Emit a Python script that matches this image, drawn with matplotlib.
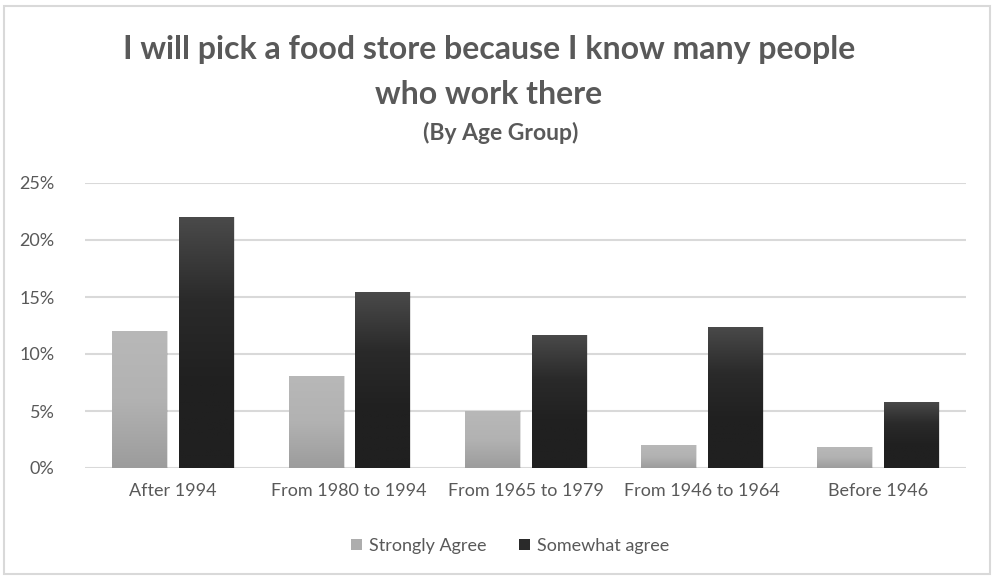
import numpy as np
import matplotlib.pyplot as plt
from matplotlib.patches import Rectangle
from matplotlib.ticker import PercentFormatter
from matplotlib.colors import LinearSegmentedColormap

plt.rcParams['font.family'] = ['Lato', 'DejaVu Sans']

groups = ["After 1994", "From 1980 to 1994", "From 1965 to 1979", "From 1946 to 1964", "Before 1946"]
strongly_agree = [12.0, 8.1, 5.0, 2.0, 1.8]
somewhat_agree = [22.0, 15.4, 11.7, 12.4, 5.8]
series_names = ["Strongly Agree", "Somewhat agree"]

text_col = "#595959"
light_cmap = LinearSegmentedColormap.from_list("light", ["#b8b8b8", "#b2b2b2", "#9c9c9c"])
dark_cmap = LinearSegmentedColormap.from_list("dark", ["#4a4a4a", "#2a2a2a", "#202020", "#202020"])

fig = plt.figure(figsize=(9.94, 5.76), dpi=100)
ax = fig.add_axes([85 / 994, 1 - 468 / 576, 881 / 994, 285 / 576])

x = np.arange(len(groups))
width = 0.31
offset = 0.19
grad = np.linspace(0, 1, 256).reshape(-1, 1)


def gradient_bars(xs, vals, cmap):
    for xc, v in zip(xs, vals):
        left = xc - width / 2
        # soft shadow behind the bar
        ax.add_patch(Rectangle((left + 0.008, 0), width, v, facecolor="#000000",
                               alpha=0.12, edgecolor="none", zorder=2))
        im = ax.imshow(grad, cmap=cmap, aspect="auto", zorder=3,
                       extent=[left, left + width, 0, v], origin="upper")
        clip = Rectangle((left, 0), width, v, transform=ax.transData)
        im.set_clip_path(clip)


gradient_bars(x - offset, strongly_agree, light_cmap)
gradient_bars(x + offset, somewhat_agree, dark_cmap)

ax.set_xlim(-0.5, len(groups) - 0.5)
ax.set_ylim(0, 25)
ax.set_yticks(np.arange(0, 26, 5))
ax.yaxis.set_major_formatter(PercentFormatter(decimals=0))
ax.set_xticks(x)
ax.set_xticklabels(groups)
ax.grid(axis="y", color="#d9d9d9", linewidth=1.5, zorder=0)
ax.set_axisbelow(True)
for s in ax.spines.values():
    s.set_visible(False)
ax.tick_params(length=0, labelsize=13, colors=text_col)
ax.tick_params(axis="x", pad=11)
ax.tick_params(axis="y", pad=22)

fig.text(0.492, 1 - 50 / 576, "I will pick a food store because I know many people",
         ha="center", va="center", fontsize=23, fontweight="bold", color=text_col)
fig.text(0.492, 1 - 95 / 576, "who work there",
         ha="center", va="center", fontsize=23, fontweight="bold", color=text_col)
fig.text(0.504, 1 - 133 / 576, "(By Age Group)",
         ha="center", va="center", fontsize=16.5, fontweight="bold", color=text_col)

handles = [Rectangle((0, 0), 1, 1, facecolor="#adadad"),
           Rectangle((0, 0), 1, 1, facecolor="#2a2a2a")]
fig.legend(handles, series_names, loc="center", bbox_to_anchor=(0.513, 1 - 546 / 576),
           ncol=2, frameon=False, fontsize=13, labelcolor=text_col,
           handlelength=0.6, handleheight=0.6, handletextpad=0.4, columnspacing=1.8)

fig.add_artist(Rectangle((0.004, 0.004), 0.992, 0.985, transform=fig.transFigure,
                         fill=False, edgecolor="#d9d9d9", linewidth=1.5))

fig.savefig("out.png", dpi=100)
